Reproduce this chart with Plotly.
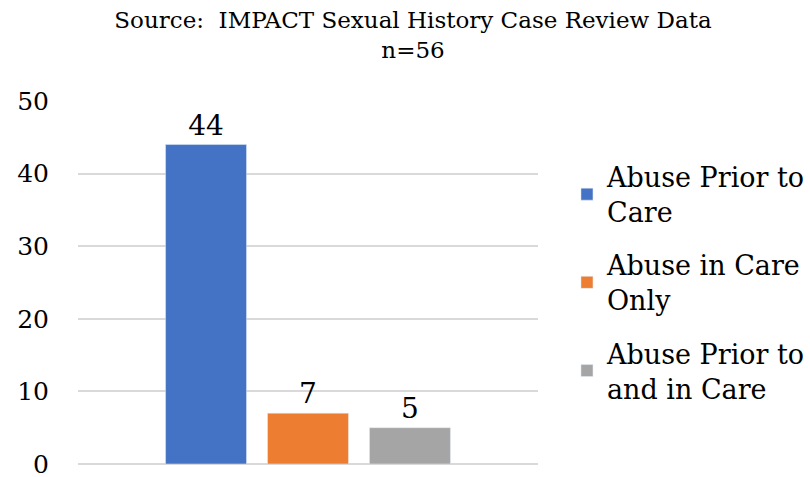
import plotly.graph_objects as go

series = ["Abuse Prior to<br>Care", "Abuse in Care<br>Only", "Abuse Prior to<br>and in Care"]
values = [44, 7, 5]
colors = ["#4472C4", "#ED7D31", "#A5A5A5"]
category = [""]
y_ticks = [0, 10, 20, 30, 40, 50]

FONT = "DejaVu Serif"

fig = go.Figure()
for i, (name, v, c) in enumerate(zip(series, values, colors)):
    fig.add_trace(go.Bar(
        x=category, y=[v], name=name, marker_color=c,
        legendgroup=f"g{i}",
        text=[str(v)], textposition="outside",
        textfont=dict(family=FONT, size=28, color="#000000"),
        cliponaxis=False,
    ))

fig.update_layout(
    width=810, height=477,
    margin=dict(l=78, r=272, t=101, b=13, autoexpand=False),
    paper_bgcolor="white", plot_bgcolor="white",
    barmode="group", bargap=0.335, bargroupgap=0.206,
    title=dict(
        text="Source:  IMPACT Sexual History Case Review Data<br>n=56",
        x=413/810, xref="container", xanchor="center",
        y=1 - 28/477, yref="container", yanchor="middle",
        font=dict(family=FONT, size=23, color="#000000"),
        automargin=False,
    ),
    legend=dict(
        x=1.063, y=0.858, xanchor="left", yanchor="top",
        font=dict(family=FONT, size=27, color="#000000"),
        itemwidth=30, tracegroupgap=15,
        traceorder="grouped",
    ),
    showlegend=True,
)
fig.update_xaxes(showticklabels=False, showgrid=False, zeroline=False, showline=False,
                 automargin=False)
fig.update_yaxes(
    range=[0, 50], tickvals=y_ticks, showgrid=True, gridcolor="#D9D9D9", gridwidth=2,
    zeroline=True, zerolinecolor="#D9D9D9", zerolinewidth=2,
    tickfont=dict(family=FONT, size=25, color="#000000"),
    ticklabelstandoff=28, automargin=False, ticklabeloverflow="allow",
)

fig.write_html("out.html", config={"displayModeBar": False},
               post_script="document.body.style.margin='0';")
